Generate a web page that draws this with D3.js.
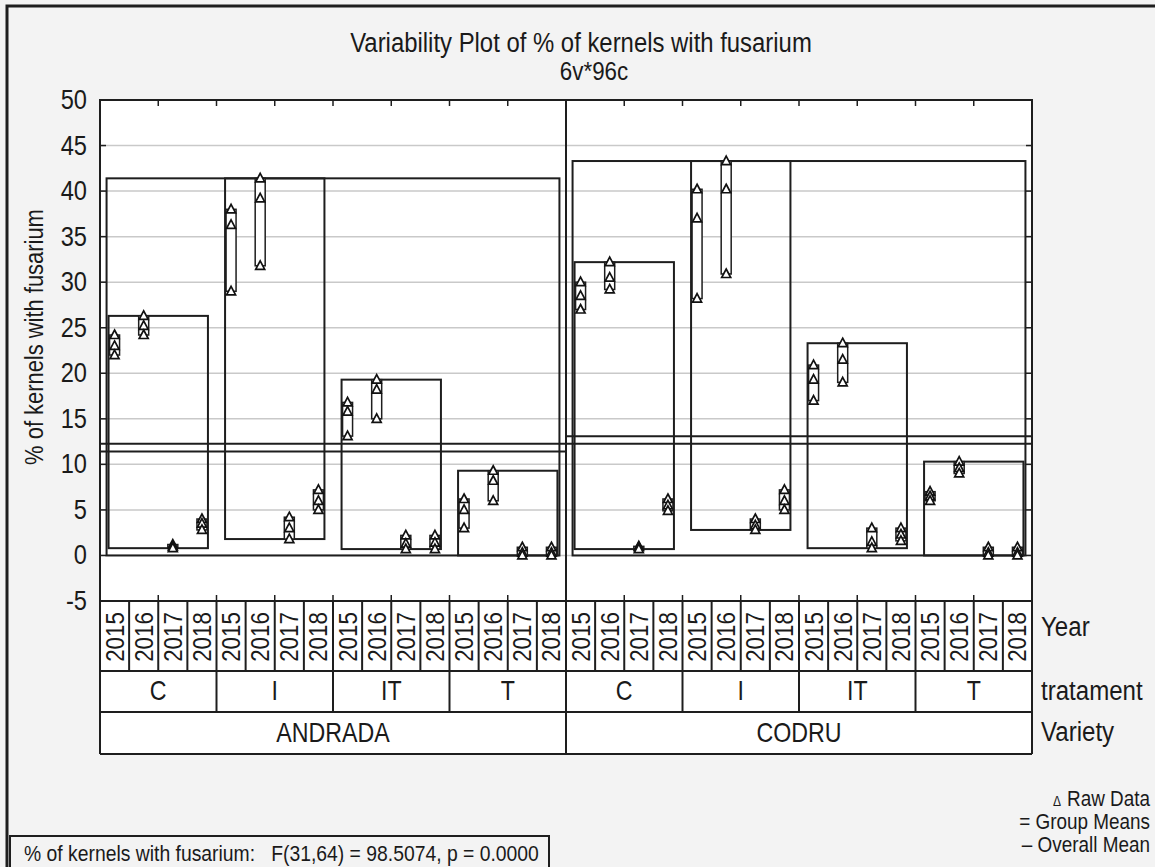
<!DOCTYPE html>
<html><head><meta charset="utf-8">
<script src="https://cdn.jsdelivr.net/npm/d3@7"></script>
<style>
html,body{margin:0;padding:0;background:#f3f3f3;}
svg{display:block;font-family:"Liberation Sans",Arial,sans-serif;}
text{fill:#1a1a1a;}
</style></head>
<body>
<svg id="chart" width="1155" height="867"></svg>
<script>
// ---- data ----
const varieties = ["ANDRADA", "CODRU"];
const treatments = ["C", "I", "IT", "T"];
const years = ["2015", "2016", "2017", "2018"];
const yTicks = [-5, 0, 5, 10, 15, 20, 25, 30, 35, 40, 45, 50];
// raw values (3 replicates) per year, per variety x treatment
const andradaC  = [[24.2, 23.0, 22.0], [26.3, 25.2, 24.2], [1.2, 1.0, 0.8], [4.0, 3.5, 2.8]];
const andradaI  = [[38.0, 36.3, 29.0], [41.4, 39.2, 31.8], [4.2, 3.0, 1.8], [7.2, 6.0, 5.0]];
const andradaIT = [[16.8, 15.8, 13.1], [19.3, 18.2, 15.0], [2.2, 1.3, 0.7], [2.2, 1.4, 0.7]];
const andradaT  = [[6.2, 5.0, 3.0], [9.3, 8.2, 6.0], [0.9, 0.3, 0.0], [0.9, 0.3, 0.0]];
const codruC    = [[30.0, 28.5, 27.0], [32.2, 30.5, 29.2], [1.0, 0.9, 0.7], [6.2, 5.5, 4.9]];
const codruI    = [[40.2, 37.0, 28.2], [43.3, 40.2, 30.9], [4.0, 3.3, 2.8], [7.2, 6.0, 5.0]];
const codruIT   = [[20.9, 19.3, 17.0], [23.3, 21.5, 19.0], [3.0, 1.5, 0.8], [3.0, 2.3, 1.6]];
const codruT    = [[7.0, 6.5, 6.0], [10.3, 9.6, 9.0], [0.9, 0.3, 0.0], [0.9, 0.3, 0.0]];
const rawByVariety = [[andradaC, andradaI, andradaIT, andradaT], [codruC, codruI, codruIT, codruT]];

// ---- build cells ----
const cells = [];
varieties.forEach((v, vi) => treatments.forEach((t, ti) => years.forEach((yr, yi) => {
  cells.push({idx: vi * 16 + ti * 4 + yi, variety: v, vi, treatment: t, ti, year: yr, values: rawByVariety[vi][ti][yi]});
})));
const allValues = cells.flatMap(c => c.values);
const overallMean = d3.mean(allValues);

const svg = d3.select("#chart");
const L = 100, R = 1032, T = 100, B = 601;
const rowYear = 671, rowTreat = 712, rowVar = 754;
const ink = "#1e1e1e";
const SX = 0.86; // condensed glyphs like the reference

function label(parent, x, y, str, size, anchor, rot) {
  return parent.append("text")
    .attr("transform", `translate(${x},${y}) rotate(${rot || 0}) scale(${SX},1)`)
    .attr("text-anchor", anchor || "start").attr("font-size", size).text(str);
}

const x = d3.scaleBand().domain(d3.range(cells.length)).range([L, R]);
const y = d3.scaleLinear().domain([-5, 50]).range([B, T]);
const bw = x.bandwidth();
const cx = i => x(i) + bw / 2;

// background & outer frame
svg.append("rect").attr("width", 1155).attr("height", 867).attr("fill", "#f3f3f3");
svg.append("path").attr("d", "M7,867 L7,6 L1155,6").attr("fill", "none").attr("stroke", ink).attr("stroke-width", 3);
svg.append("rect").attr("x", L).attr("y", T).attr("width", R - L).attr("height", rowVar - T).attr("fill", "#fff");

// title
label(svg, 581, 52, "Variability Plot of % of kernels with fusarium", 27.8, "middle");
label(svg, 594, 80, "6v*96c", 26, "middle");

// gridlines
svg.append("g").selectAll("line").data(yTicks.filter(t => t > -5 && t < 50)).join("line")
  .attr("x1", L).attr("x2", R).attr("y1", d => y(d)).attr("y2", d => y(d))
  .attr("stroke", "#c9c9c9").attr("stroke-width", 1.5);

// y tick labels and ticks
const tl = svg.append("g");
yTicks.forEach(t => label(tl, 87, y(t) + 9, String(t), 27.5, "end"));
const tickG = svg.append("g").attr("stroke", ink).attr("stroke-width", 1.5);
yTicks.forEach(t => {
  tickG.append("line").attr("x1", L).attr("x2", L + 6).attr("y1", y(t)).attr("y2", y(t));
  tickG.append("line").attr("x1", R - 6).attr("x2", R).attr("y1", y(t)).attr("y2", y(t));
});
for (let k = 2; k < cells.length; k += 2) {
  tickG.append("line").attr("x1", x(k)).attr("x2", x(k)).attr("y1", T).attr("y2", T + 6);
  tickG.append("line").attr("x1", x(k)).attr("x2", x(k)).attr("y1", B - 6).attr("y2", B);
}

label(svg, 43, 337, "% of kernels with fusarium", 25.5, "middle", -90);

// mean lines
svg.append("line").attr("x1", L).attr("x2", R).attr("y1", y(overallMean)).attr("y2", y(overallMean))
  .attr("stroke", ink).attr("stroke-width", 2);
varieties.forEach((v, vi) => {
  const vc = cells.filter(c => c.vi === vi);
  const m = d3.mean(vc.flatMap(c => c.values));
  svg.append("line").attr("x1", x(vc[0].idx)).attr("x2", x(vc[vc.length - 1].idx) + bw)
    .attr("y1", y(m)).attr("y2", y(m)).attr("stroke", ink).attr("stroke-width", 2);
});

// variety range boxes
varieties.forEach((v, vi) => {
  const vc = cells.filter(c => c.vi === vi);
  const vals = vc.flatMap(c => c.values);
  const x0 = cx(vc[0].idx) - 8, x1 = cx(vc[vc.length - 1].idx) + 8;
  svg.append("rect").attr("x", x0).attr("y", y(d3.max(vals))).attr("width", x1 - x0)
    .attr("height", y(d3.min(vals)) - y(d3.max(vals))).attr("fill", "none").attr("stroke", ink).attr("stroke-width", 2);
});
// treatment range boxes
varieties.forEach((v, vi) => treatments.forEach((t, ti) => {
  const tc = cells.filter(c => c.vi === vi && c.ti === ti);
  const vals = tc.flatMap(c => c.values);
  const x0 = cx(tc[0].idx) - 6, x1 = cx(tc[tc.length - 1].idx) + 6;
  svg.append("rect").attr("x", x0).attr("y", y(d3.max(vals))).attr("width", x1 - x0)
    .attr("height", y(d3.min(vals)) - y(d3.max(vals))).attr("fill", "none").attr("stroke", ink).attr("stroke-width", 2);
}));

// per-year range bars and raw data triangles
const cg = svg.append("g").selectAll("g").data(cells).join("g");
cg.append("rect").attr("x", d => cx(d.idx) - 5).attr("width", 10)
  .attr("y", d => y(d3.max(d.values))).attr("height", d => Math.max(1, y(d3.min(d.values)) - y(d3.max(d.values))))
  .attr("fill", "#fff").attr("stroke", ink).attr("stroke-width", 1.5);
cg.selectAll("path").data(d => d.values.map(v => ({v, c: cx(d.idx)}))).join("path")
  .attr("d", p => { const yy = y(p.v); return `M${p.c},${yy - 5} L${p.c + 4.5},${yy + 3.5} L${p.c - 4.5},${yy + 3.5} Z`; })
  .attr("fill", "#fff").attr("stroke", "#111").attr("stroke-width", 1.7);

// frame
svg.append("rect").attr("x", L).attr("y", T).attr("width", R - L).attr("height", B - T)
  .attr("fill", "none").attr("stroke", ink).attr("stroke-width", 2);

// category table
const tg = svg.append("g").attr("stroke", ink).attr("stroke-width", 2);
[rowYear, rowTreat, rowVar].forEach(yy => tg.append("line").attr("x1", L).attr("x2", R).attr("y1", yy).attr("y2", yy));
tg.append("line").attr("x1", L).attr("x2", L).attr("y1", B).attr("y2", rowVar);
tg.append("line").attr("x1", R).attr("x2", R).attr("y1", B).attr("y2", rowVar);
for (let k = 1; k < cells.length; k++) {
  const bottom = (k % 16 === 0) ? rowVar : (k % 4 === 0 ? rowTreat : rowYear);
  tg.append("line").attr("x1", x(k)).attr("x2", x(k)).attr("y1", B).attr("y2", bottom);
}
tg.append("line").attr("x1", x(16)).attr("x2", x(16)).attr("y1", T).attr("y2", B);

const yl = svg.append("g");
cells.forEach(d => label(yl, cx(d.idx) + 9, 637, d.year, 26, "middle", -90));

const cl = svg.append("g");
varieties.forEach((v, vi) => treatments.forEach((t, ti) => {
  const i0 = vi * 16 + ti * 4;
  label(cl, (x(i0) + x(i0 + 3) + bw) / 2, 700, t, 27, "middle");
}));
varieties.forEach((v, vi) => {
  const i0 = vi * 16;
  label(cl, (x(i0) + x(i0 + 15) + bw) / 2, 742, v, 27, "middle");
});
[["Year", 636], ["tratament", 700], ["Variety", 741]].forEach(([s, yy]) => label(cl, 1041, yy, s, 28));

// legend
const lg = svg.append("g").attr("transform", `translate(1150,0) scale(${SX},1)`).attr("text-anchor", "end").attr("font-size", 22);
const l1 = lg.append("text").attr("x", 0).attr("y", 806).style("white-space", "pre");
l1.append("tspan").attr("font-size", 14).text("Δ  ");
l1.append("tspan").text("Raw Data");
lg.append("text").attr("x", 0).attr("y", 829).text("= Group Means");
lg.append("text").attr("x", 0).attr("y", 852).text("– Overall Mean");

// statistic box
svg.append("rect").attr("x", 10).attr("y", 836).attr("width", 539).attr("height", 40)
  .attr("fill", "none").attr("stroke", ink).attr("stroke-width", 2);
label(svg, 24, 861, "% of kernels with fusarium:   F(31,64) = 98.5074, p = 0.0000", 22.5).style("white-space", "pre");
</script>
</body></html>
